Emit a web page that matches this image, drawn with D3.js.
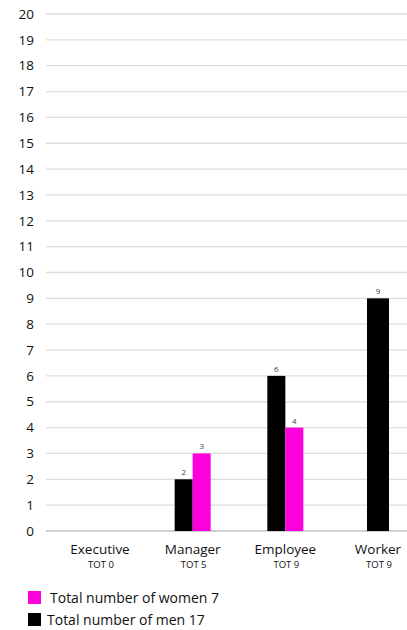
<!DOCTYPE html>
<html><head><meta charset="utf-8">
<script src="https://cdn.jsdelivr.net/npm/d3@7"></script>
<style>body{margin:0;background:#fff;} svg{display:block;font-family:"Open Sans",sans-serif;}</style>
</head><body><svg id="c" width="407" height="630"></svg>
<script>
const categories = ["Executive","Manager","Employee","Worker"];
const totals = ["TOT 0","TOT 5","TOT 9","TOT 9"];
const men = [0, 2, 6, 9];
const women = [0, 3, 4, 0];
const yTicks = d3.range(0, 21);
const legendItems = [{label:"Total number of women 7", key:"women"},{label:"Total number of men 17", key:"men"}];
const colors = {men:"#000000", women:"#ff00dd"};

const svg = d3.select("#c");
const y = d3.scaleLinear().domain([0,20]).range([531,14]);
const x = d3.scalePoint().domain(categories).range([100,378]);
const bw = 18;

// grid
svg.append("g").selectAll("line").data(yTicks).join("line")
  .attr("x1",46).attr("x2",407).attr("y1",d=>y(d)).attr("y2",d=>y(d))
  .attr("stroke",d=>d===0?"#d0d0d0":"#dedede").attr("stroke-width",d=>d===0?2:1.3);
svg.append("g").selectAll("text").data(yTicks).join("text")
  .attr("x",34).attr("y",d=>y(d)).attr("dy","0.35em").attr("text-anchor","end")
  .attr("font-size",13.5).attr("fill","#111").text(d=>d);

const series = [{key:"men",vals:men,off:-bw},{key:"women",vals:women,off:0}];
series.forEach(s=>{
  const g = svg.append("g");
  const data = categories.map((c,i)=>({c,v:s.vals[i]})).filter(d=>d.v>0);
  const solo = d => s.key==="men" && women[categories.indexOf(d.c)]===0;
  const off = d => solo(d) ? -bw/2 - 2 : s.off;
  const w = d => solo(d) ? bw+4 : bw;
  g.selectAll("rect").data(data).join("rect")
    .attr("x",d=>x(d.c)+off(d)).attr("width",w)
    .attr("y",d=>y(d.v)).attr("height",d=>y(0)-y(d.v)).attr("fill",colors[s.key]);
  g.selectAll("text").data(data).join("text")
    .attr("x",d=>x(d.c)+off(d)+w(d)/2).attr("y",d=>y(d.v)-4).attr("text-anchor","middle")
    .attr("font-size",8).attr("fill","#444").text(d=>d.v);
});

// category labels
svg.append("g").selectAll("text").data(categories).join("text")
  .attr("x",d=>x(d)).attr("y",554).attr("text-anchor","middle")
  .attr("font-size",13.5).attr("fill","#111").text(d=>d);
svg.append("g").selectAll("text").data(totals).join("text")
  .attr("x",(d,i)=>x(categories[i])+1).attr("y",568).attr("text-anchor","middle")
  .attr("font-size",9.5).attr("fill","#111").text(d=>d);

// legend
const lg = svg.append("g").selectAll("g").data(legendItems).join("g")
  .attr("transform",(d,i)=>`translate(28,${591+i*22})`);
lg.append("rect").attr("width",13).attr("height",13).attr("fill",d=>colors[d.key]);
lg.append("text").attr("x",(d,i)=>i===0?22:19).attr("y",12).attr("font-size",14)
  .attr("fill","#111").text(d=>d.label);
</script></body></html>
